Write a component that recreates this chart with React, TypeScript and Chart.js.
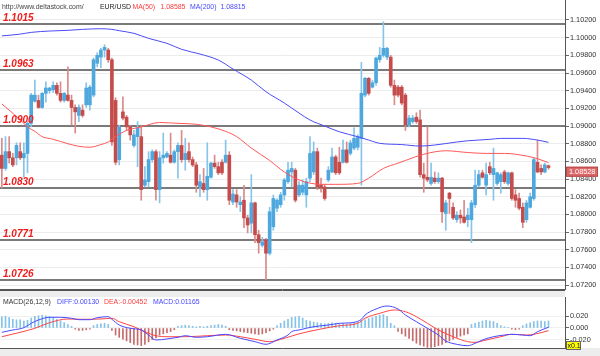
import React, { useEffect, useRef } from "react";
import { Chart, registerables } from "chart.js";

Chart.register(...registerables);

// ---------- candle data (EUR/USD) ----------
const OPEN = [
  1.0867, 1.0852, 1.0871, 1.0864, 1.0864, 1.0871, 1.0864, 1.0869, 1.0903, 1.0928,
  1.0929, 1.0921, 1.0937, 1.0940, 1.0941, 1.0946, 1.0937, 1.0929, 1.0935, 1.0929,
  1.0921, 1.0912, 1.0918, 1.0924, 1.0924, 1.0935, 1.0971, 1.0978, 1.0986, 1.0986,
  1.0975, 1.0929, 1.0862, 1.0916, 1.0910, 1.0899, 1.0878, 1.0888, 1.0888, 1.0833,
  1.0837, 1.0862, 1.0871, 1.0828, 1.0864, 1.0865, 1.0867, 1.0859, 1.0871, 1.0878,
  1.0862, 1.0871, 1.0862, 1.0856, 1.0831, 1.0835, 1.0828, 1.0842, 1.0858, 1.0854,
  1.0859, 1.0859, 1.0867, 1.0814, 1.0822, 1.0811, 1.0816, 1.0796, 1.0790, 1.0813,
  1.0777, 1.0765, 1.0771, 1.0756, 1.0786, 1.0807, 1.0811, 1.0822, 1.0837, 1.0848,
  1.0850, 1.0822, 1.0825, 1.0822, 1.0841, 1.0848, 1.0871, 1.0833, 1.0831, 1.0839,
  1.0848, 1.0865, 1.0859, 1.0859, 1.0873, 1.0869, 1.0875, 1.0876, 1.0886, 1.0935,
  1.0954, 1.0944, 1.0949, 1.0975, 1.0980, 1.0978, 1.0978, 1.0946, 1.0944, 1.0944,
  1.0935, 1.0901, 1.0905, 1.0910, 1.0907, 1.0845, 1.0842, 1.0835, 1.0841, 1.0837,
  1.0841, 1.0801, 1.0824, 1.0808, 1.0794, 1.0799, 1.0797, 1.0794, 1.0794, 1.0811,
  1.0833, 1.0847, 1.0833, 1.0854, 1.0845, 1.0835, 1.0837, 1.0848, 1.0835, 1.0847,
  1.0822, 1.0818, 1.0808, 1.0794, 1.0808, 1.0818, 1.0859, 1.0852, 1.0848, 1.0855,
];
const HIGH = [
  1.0886, 1.0888, 1.0888, 1.0869, 1.0881, 1.0881, 1.0881, 1.0905, 1.0937, 1.0952,
  1.0935, 1.0938, 1.0950, 1.0944, 1.0950, 1.0949, 1.0950, 1.0938, 1.0967, 1.0935,
  1.0924, 1.0924, 1.0924, 1.0949, 1.0946, 1.0977, 1.0983, 1.0988, 1.0992, 1.0988,
  1.0977, 1.0932, 1.0901, 1.0933, 1.0912, 1.0901, 1.0895, 1.0905, 1.0901, 1.0854,
  1.0871, 1.0873, 1.0873, 1.0871, 1.0892, 1.0871, 1.0892, 1.0873, 1.0881, 1.0895,
  1.0886, 1.0881, 1.0865, 1.0859, 1.0845, 1.0852, 1.0881, 1.0859, 1.0867, 1.0859,
  1.0862, 1.0884, 1.0871, 1.0828, 1.0828, 1.0820, 1.0833, 1.0799, 1.0845, 1.0814,
  1.0782, 1.0774, 1.0773, 1.0808, 1.0822, 1.0818, 1.0825, 1.0841, 1.0859, 1.0859,
  1.0852, 1.0837, 1.0839, 1.0841, 1.0888, 1.0882, 1.0875, 1.0841, 1.0833, 1.0854,
  1.0875, 1.0867, 1.0876, 1.0884, 1.0882, 1.0884, 1.0898, 1.0890, 1.0972, 1.0955,
  1.0955, 1.0952, 1.0978, 1.0989, 1.1018, 1.0989, 1.0980, 1.0952, 1.0946, 1.0946,
  1.0937, 1.0912, 1.0912, 1.0915, 1.0918, 1.0858, 1.0899, 1.0858, 1.0848, 1.0847,
  1.0842, 1.0816, 1.0825, 1.0813, 1.0803, 1.0805, 1.0816, 1.0807, 1.0816, 1.0850,
  1.0850, 1.0850, 1.0858, 1.0859, 1.0875, 1.0848, 1.0847, 1.0850, 1.0848, 1.0848,
  1.0828, 1.0824, 1.0813, 1.0816, 1.0824, 1.0864, 1.0884, 1.0856, 1.0858, 1.0856,
];
const LOW = [
  1.0830, 1.0850, 1.0858, 1.0854, 1.0856, 1.0862, 1.0842, 1.0847, 1.0899, 1.0927,
  1.0920, 1.0920, 1.0927, 1.0937, 1.0938, 1.0935, 1.0927, 1.0927, 1.0928, 1.0901,
  1.0892, 1.0905, 1.0910, 1.0921, 1.0918, 1.0933, 1.0967, 1.0966, 1.0978, 1.0972,
  1.0878, 1.0856, 1.0856, 1.0907, 1.0895, 1.0884, 1.0876, 1.0854, 1.0816, 1.0831,
  1.0831, 1.0859, 1.0816, 1.0813, 1.0858, 1.0864, 1.0858, 1.0858, 1.0841, 1.0859,
  1.0850, 1.0859, 1.0854, 1.0825, 1.0820, 1.0825, 1.0816, 1.0841, 1.0852, 1.0845,
  1.0845, 1.0858, 1.0811, 1.0811, 1.0808, 1.0803, 1.0785, 1.0779, 1.0779, 1.0768,
  1.0756, 1.0763, 1.0726, 1.0754, 1.0782, 1.0803, 1.0808, 1.0816, 1.0835, 1.0831,
  1.0814, 1.0820, 1.0822, 1.0808, 1.0837, 1.0845, 1.0828, 1.0825, 1.0816, 1.0837,
  1.0847, 1.0845, 1.0845, 1.0858, 1.0858, 1.0867, 1.0873, 1.0873, 1.0833, 1.0933,
  1.0935, 1.0943, 1.0946, 1.0972, 1.0978, 1.0975, 1.0944, 1.0924, 1.0933, 1.0924,
  1.0895, 1.0899, 1.0903, 1.0903, 1.0842, 1.0825, 1.0837, 1.0833, 1.0835, 1.0835,
  1.0791, 1.0782, 1.0801, 1.0794, 1.0791, 1.0790, 1.0790, 1.0786, 1.0768, 1.0808,
  1.0831, 1.0841, 1.0822, 1.0845, 1.0816, 1.0833, 1.0824, 1.0835, 1.0833, 1.0816,
  1.0808, 1.0805, 1.0785, 1.0791, 1.0807, 1.0816, 1.0847, 1.0845, 1.0847, 1.0851,
];
const CLOSE = [
  1.0852, 1.0871, 1.0864, 1.0856, 1.0878, 1.0864, 1.0869, 1.0903, 1.0935, 1.0935,
  1.0921, 1.0937, 1.0943, 1.0943, 1.0946, 1.0937, 1.0929, 1.0937, 1.0929, 1.0921,
  1.0916, 1.0921, 1.0912, 1.0943, 1.0944, 1.0975, 1.0980, 1.0986, 1.0989, 1.0975,
  1.0882, 1.0859, 1.0899, 1.0909, 1.0899, 1.0890, 1.0890, 1.0898, 1.0828, 1.0839,
  1.0862, 1.0871, 1.0828, 1.0864, 1.0867, 1.0869, 1.0859, 1.0871, 1.0878, 1.0862,
  1.0869, 1.0862, 1.0856, 1.0833, 1.0837, 1.0828, 1.0843, 1.0858, 1.0854, 1.0847,
  1.0847, 1.0867, 1.0816, 1.0823, 1.0814, 1.0814, 1.0796, 1.0788, 1.0813, 1.0777,
  1.0768, 1.0769, 1.0756, 1.0803, 1.0818, 1.0816, 1.0822, 1.0839, 1.0850, 1.0852,
  1.0816, 1.0833, 1.0833, 1.0837, 1.0869, 1.0871, 1.0831, 1.0830, 1.0818, 1.0850,
  1.0865, 1.0847, 1.0847, 1.0873, 1.0859, 1.0881, 1.0886, 1.0888, 1.0937, 1.0954,
  1.0937, 1.0949, 1.0977, 1.0980, 1.0988, 1.0988, 1.0946, 1.0935, 1.0935, 1.0926,
  1.0901, 1.0909, 1.0909, 1.0905, 1.0845, 1.0841, 1.0839, 1.0842, 1.0837, 1.0841,
  1.0803, 1.0813, 1.0818, 1.0796, 1.0799, 1.0796, 1.0791, 1.0799, 1.0813, 1.0833,
  1.0845, 1.0842, 1.0845, 1.0847, 1.0852, 1.0847, 1.0845, 1.0837, 1.0847, 1.0818,
  1.0816, 1.0807, 1.0791, 1.0813, 1.0820, 1.0862, 1.0848, 1.0848, 1.0856, 1.0853,
];

// ---------- moving averages (read at candle positions) ----------
const MA200_AT = [0, 5, 8, 13, 18, 22, 27, 30, 32, 36, 40, 45, 49, 54, 59, 63, 68, 72, 77, 81, 84, 88, 92, 97, 100, 103, 109, 114, 118, 124, 127, 133, 136, 142, 146, 149];
const MA200 = [1.1002, 1.1004, 1.1006, 1.10075, 1.10083, 1.10094, 1.10101, 1.10094, 1.10079, 1.10049, 1.09992, 1.09936, 1.09868, 1.09815, 1.09747, 1.09645, 1.0952, 1.09388, 1.0926, 1.09147, 1.09068, 1.09, 1.08935, 1.08879, 1.08841, 1.08804, 1.0879, 1.08773, 1.08785, 1.08819, 1.08833, 1.08849, 1.0886, 1.0886, 1.08841, 1.08815];
const MA50_AT = [0, 2, 5, 7, 9, 11, 14, 18, 21, 24, 27, 29, 31, 34, 38, 43, 48, 53, 57, 61, 64, 68, 73, 77, 81, 87, 91, 97, 100, 104, 108, 110, 115, 121, 127, 132, 137, 143, 146, 149];
const MA50 = [1.0925, 1.0918, 1.0907, 1.0899, 1.0894, 1.0888, 1.0885, 1.088, 1.0877, 1.0876, 1.0879, 1.0882, 1.0888, 1.0895, 1.0899, 1.0904, 1.0903, 1.0902, 1.0899, 1.0894, 1.0888, 1.0875, 1.0861, 1.0848, 1.0839, 1.0834, 1.0834, 1.0835, 1.0841, 1.0852, 1.0858, 1.0861, 1.0868, 1.0872, 1.087, 1.0869, 1.0869, 1.0866, 1.0863, 1.08585];

// ---------- MACD ----------
const DIFF_AT = [0, 3, 6, 8, 10, 13, 16, 19, 21, 24, 26, 29, 30, 32, 35, 38, 40, 42, 45, 48, 50, 53, 56, 61, 65, 69, 72, 75, 78, 79, 81, 85, 89, 92, 96, 98, 99, 102, 105, 108, 110, 113, 116, 119, 121, 124, 127, 129, 131, 134, 137, 139, 142, 144, 146, 149];
const DIFF = [-0.0074, -0.0034, 0.0005, 0.008, 0.0137, 0.0183, 0.0183, 0.0166, 0.0142, 0.0142, 0.0176, 0.0193, 0.0149, 0.0051, -0.0005, -0.0034, -0.012, -0.0205, -0.0188, -0.0159, -0.0132, -0.0159, -0.0149, -0.0108, -0.0176, -0.0234, -0.0279, -0.0205, -0.012, -0.0063, -0.0034, 0.0022, 0.0051, 0.008, 0.0097, 0.0149, 0.0222, 0.0325, 0.0376, 0.0325, 0.0222, 0.0108, -0.0005, -0.012, -0.0222, -0.0279, -0.0303, -0.0262, -0.0205, -0.0149, -0.012, -0.0108, -0.012, -0.0132, -0.0063, 0.0013];
const DEA_AT = [0, 5, 9, 13, 18, 22, 27, 30, 32, 36, 39, 42, 45, 50, 56, 61, 65, 69, 73, 77, 81, 87, 92, 97, 99, 103, 107, 110, 113, 116, 119, 123, 127, 129, 132, 136, 139, 143, 145, 149];
const DEA = [-0.0149, -0.0074, -0.0005, 0.0091, 0.0154, 0.0149, 0.0154, 0.0166, 0.0108, 0.0022, -0.0063, -0.0132, -0.0149, -0.0149, -0.0132, -0.012, -0.0149, -0.0193, -0.0234, -0.0176, -0.01, -0.0017, 0.0039, 0.008, 0.0166, 0.0251, 0.0308, 0.0279, 0.0193, 0.008, -0.0034, -0.0149, -0.0234, -0.0245, -0.0205, -0.0149, -0.0108, -0.012, -0.0108, -0.0045];
const HIST = [
  0.019, 0.02, 0.018, 0.015, 0.014, 0.014, 0.012, 0.013, 0.017, 0.02,
  0.021, 0.022, 0.021, 0.02, 0.018, 0.015, 0.012, 0.009, 0.006, 0.003,
  -0.002, -0.004, -0.004, -0.003, -0.002, 0.004, 0.006, 0.007, 0.008, 0.006,
  -0.004, -0.012, -0.016, -0.019, -0.022, -0.025, -0.028, -0.029, -0.03, -0.028,
  -0.024, -0.02, -0.017, -0.012, -0.01, -0.008, -0.006, -0.003, 0.003, 0.004,
  0.005, 0.004, 0.003, 0.002, 0.003, 0.002, 0.003, 0.004, 0.005, 0.006,
  0.005, 0.003, -0.003, -0.004, -0.005, -0.006, -0.007, -0.008, -0.009, -0.01,
  -0.011, -0.01, -0.008, -0.005, -0.002, 0.004, 0.008, 0.012, 0.015, 0.018,
  0.019, 0.02, 0.017, 0.013, 0.012, 0.01, 0.009, 0.008, 0.007, 0.008,
  0.009, 0.008, 0.007, 0.008, 0.007, 0.008, 0.009, 0.01, 0.013, 0.014,
  0.016, 0.018, 0.02, 0.022, 0.023, 0.02, 0.008, 0.004, -0.006, -0.01,
  -0.014, -0.018, -0.022, -0.026, -0.029, -0.031, -0.033, -0.033, -0.032, -0.03,
  -0.028, -0.025, -0.022, -0.019, -0.016, -0.014, -0.012, -0.01, 0.006, 0.008,
  0.01, 0.012, 0.013, 0.012, 0.011, 0.008, 0.004, 0.002, 0.001, -0.002,
  -0.003, -0.002, 0.004, 0.007, 0.009, 0.011, 0.012, 0.012, 0.011, 0.012,
];

// ---------- axis / annotation values ----------
const PRICE_TICKS = [1.072, 1.074, 1.076, 1.078, 1.08, 1.082, 1.084, 1.086, 1.088, 1.09, 1.092, 1.094, 1.096, 1.098, 1.1, 1.102];
const SUPPORT_LEVELS = [1.1015, 1.0963, 1.09, 1.083, 1.0771, 1.0726];
const MACD_TICKS = [0.02, 0, -0.02];
const LAST_PRICE = 1.08528;
const MA50_LAST = "1.08585";
const MA200_LAST = "1.08815";
const DIFF_LAST = "0.00130";
const DEA_LAST = "-0.00452";
const MACD_LAST = "0.01165";
const SYMBOL = "EUR/USD";
const SOURCE = "http://www.deltastock.com/";

const SLOTS = 154;
const PRICE_MAX = 1.1042637;
const PRICE_MIN = 1.0715529;
const MACD_MAX = 0.053;
const MACD_MIN = -0.0342;

const FONT = "'Liberation Sans', Arial, sans-serif";
const BLUE_BODY = "#4ea8de";
const RED_BODY = "#c64c4c";
const BLUE_WICK = "#86c4ea";
const RED_WICK = "#d98a8a";

const mainDecor = {
  id: "mainDecor",
  beforeDatasetsDraw(chart: any) {
    const { ctx, chartArea, scales } = chart;
    ctx.save();
    ctx.strokeStyle = "#7a7a7a";
    ctx.lineWidth = 2;
    SUPPORT_LEVELS.forEach((v) => {
      const py = Math.round(scales.y.getPixelForValue(v));
      ctx.beginPath();
      ctx.moveTo(chartArea.left, py);
      ctx.lineTo(chartArea.right, py);
      ctx.stroke();
    });
    ctx.restore();
  },
  afterDatasetsDraw(chart: any) {
    const { ctx, scales } = chart;
    ctx.save();
    ctx.font = `bold italic 10px ${FONT}`;
    ctx.fillStyle = "#ee1c1c";
    ctx.textBaseline = "alphabetic";
    SUPPORT_LEVELS.forEach((v) => {
      const py = Math.round(scales.y.getPixelForValue(v));
      ctx.fillText(v.toFixed(4), 3, py - 3);
    });
    ctx.restore();
  },
  afterDraw(chart: any) {
    const { ctx, chartArea, scales } = chart;
    ctx.save();
    // header
    ctx.font = `6.9px ${FONT}`;
    ctx.textBaseline = "alphabetic";
    ctx.fillStyle = "#444";
    ctx.fillText(SOURCE, 2, 8.5);
    ctx.fillStyle = "#222";
    ctx.fillText(SYMBOL, 100, 8.5);
    ctx.fillStyle = "#ff3b3b";
    ctx.fillText("MA(50)", 132.5, 8.5);
    ctx.fillText(MA50_LAST, 160.5, 8.5);
    ctx.fillStyle = "#4848ff";
    ctx.fillText("MA(200)", 190, 8.5);
    ctx.fillText(MA200_LAST, 220.5, 8.5);
    // bottom border
    ctx.strokeStyle = "#555";
    ctx.lineWidth = 1;
    ctx.beginPath();
    ctx.moveTo(0, chartArea.bottom + 0.5);
    ctx.lineTo(chartArea.right, chartArea.bottom + 0.5);
    ctx.stroke();
    // last price box
    const py = scales.y.getPixelForValue(LAST_PRICE);
    ctx.fillStyle = "#dc6767";
    ctx.fillRect(chartArea.right + 1, py - 1, 32, 10);
    ctx.strokeStyle = "#b44a4a";
    ctx.strokeRect(chartArea.right + 1.5, py - 0.5, 31, 9);
    ctx.fillStyle = "#ffffff";
    ctx.font = `7.3px ${FONT}`;
    ctx.fillText(LAST_PRICE.toFixed(5), chartArea.right + 4, py + 6.5);
    ctx.restore();
  },
};

const macdDecor = {
  id: "macdDecor",
  beforeDraw(chart: any) {
    const { ctx, chartArea, width, height } = chart;
    ctx.save();
    ctx.fillStyle = "#ffffff";
    ctx.fillRect(0, 0, width, height);
    ctx.fillStyle = "#ededed";
    ctx.fillRect(0, 0, chartArea.right, chartArea.top);
    ctx.fillRect(0, chartArea.bottom, width, height - chartArea.bottom);
    ctx.strokeStyle = "#555";
    ctx.lineWidth = 1;
    ctx.beginPath();
    ctx.moveTo(0, 0.5);
    ctx.lineTo(chartArea.right, 0.5);
    ctx.moveTo(0, chartArea.bottom + 0.5);
    ctx.lineTo(chartArea.right, chartArea.bottom + 0.5);
    ctx.stroke();
    ctx.restore();
  },
  afterDraw(chart: any) {
    const { ctx, chartArea } = chart;
    ctx.save();
    ctx.font = `6.9px ${FONT}`;
    ctx.textBaseline = "alphabetic";
    const by = chartArea.top + 6.5;
    ctx.fillStyle = "#333";
    ctx.fillText("MACD(26,12,9)", 3, by);
    ctx.fillStyle = "#4646ff";
    ctx.fillText("DIFF:" + DIFF_LAST, 57, by);
    ctx.fillStyle = "#ff3c3c";
    ctx.fillText("DEA:" + DEA_LAST, 104, by);
    ctx.fillStyle = "#4646ff";
    ctx.fillText("MACD:" + MACD_LAST, 153, by);
    // scale badge
    const bx = chartArea.right + 1;
    const byy = chartArea.bottom - 7;
    ctx.fillStyle = "#ffff00";
    ctx.fillRect(bx, byy, 15, 9);
    ctx.strokeStyle = "#666";
    ctx.strokeRect(bx + 0.5, byy + 0.5, 14, 8);
    ctx.fillStyle = "#111";
    ctx.font = `7px ${FONT}`;
    ctx.fillText("x0.1", bx + 1.5, byy + 7);
    ctx.restore();
  },
};

export default function App() {
  const mainRef = useRef<HTMLCanvasElement>(null);
  const macdRef = useRef<HTMLCanvasElement>(null);

  useEffect(() => {
    const idx = OPEN.map((_, i) => i);
    const up = (i: number) => CLOSE[i] >= OPEN[i];

    const main = new Chart(mainRef.current!, {
      type: "bar",
      data: {
        datasets: [
          {
            type: "line",
            data: MA200_AT.map((x, k) => ({ x, y: MA200[k] })),
            borderColor: "#4b4bf5",
            borderWidth: 1,
            pointRadius: 0,
            cubicInterpolationMode: "monotone",
            order: 0,
          } as any,
          {
            type: "line",
            data: MA50_AT.map((x, k) => ({ x, y: MA50[k] })),
            borderColor: "#ff5757",
            borderWidth: 1,
            pointRadius: 0,
            cubicInterpolationMode: "monotone",
            order: 0,
          } as any,
          {
            type: "bar",
            data: idx.map((i) => ({ x: i, y: [OPEN[i], CLOSE[i]] })),
            backgroundColor: idx.map((i) => (up(i) ? BLUE_BODY : RED_BODY)),
            borderWidth: 0,
            barThickness: 3,
            grouped: false,
            order: 1,
          } as any,
          {
            type: "bar",
            data: idx.map((i) => ({ x: i, y: [LOW[i], HIGH[i]] })),
            backgroundColor: idx.map((i) => (up(i) ? BLUE_WICK : RED_WICK)),
            borderWidth: 0,
            barThickness: 1,
            grouped: false,
            order: 2,
          } as any,
        ],
      },
      options: {
        responsive: false,
        animation: false,
        layout: { padding: { left: 0, right: 0, top: 0, bottom: 1 } },
        plugins: { legend: { display: false }, tooltip: { enabled: false } },
        scales: {
          x: { type: "linear", min: -0.5, max: SLOTS - 0.5, offset: false, display: false },
          y: {
            position: "right",
            min: PRICE_MIN,
            max: PRICE_MAX,
            afterBuildTicks: (s: any) => {
              s.ticks = PRICE_TICKS.map((v) => ({ value: v }));
            },
            afterFit: (s: any) => {
              s.width = 35;
              s.paddingTop = 0;
              s.paddingBottom = 0;
            },
            ticks: {
              font: { family: FONT, size: 7.3 },
              color: "#333",
              padding: 1,
              callback: (v: any) => Number(v).toFixed(5),
            },
            grid: { color: "#ececec", tickColor: "#666", tickLength: 4 },
            border: { color: "#555", width: 1 },
          },
        },
      } as any,
      plugins: [mainDecor],
    });

    const macd = new Chart(macdRef.current!, {
      type: "bar",
      data: {
        datasets: [
          {
            type: "line",
            data: DIFF_AT.map((x, k) => ({ x, y: DIFF[k] })),
            borderColor: "#4a4aff",
            borderWidth: 1,
            pointRadius: 0,
            cubicInterpolationMode: "monotone",
            order: 0,
          } as any,
          {
            type: "line",
            data: DEA_AT.map((x, k) => ({ x, y: DEA[k] })),
            borderColor: "#ff4545",
            borderWidth: 1,
            pointRadius: 0,
            cubicInterpolationMode: "monotone",
            order: 1,
          } as any,
          {
            type: "bar",
            data: idx.map((i) => ({ x: i, y: HIST[i] })),
            backgroundColor: idx.map((i) => (HIST[i] >= 0 ? "#84c2e8" : "#c46a6a")),
            borderWidth: 0,
            barThickness: 1,
            grouped: false,
            order: 2,
          } as any,
        ],
      },
      options: {
        responsive: false,
        animation: false,
        layout: { padding: { left: 0, right: 0, top: 7, bottom: 8 } },
        plugins: { legend: { display: false }, tooltip: { enabled: false } },
        scales: {
          x: { type: "linear", min: -0.5, max: SLOTS - 0.5, offset: false, display: false },
          y: {
            position: "right",
            min: MACD_MIN,
            max: MACD_MAX,
            afterBuildTicks: (s: any) => {
              s.ticks = MACD_TICKS.map((v) => ({ value: v }));
            },
            afterFit: (s: any) => {
              s.width = 35;
              s.paddingTop = 0;
              s.paddingBottom = 0;
            },
            ticks: {
              font: { family: FONT, size: 7.3 },
              color: "#333",
              padding: 1,
              callback: (v: any) => Number(v).toFixed(3),
            },
            grid: { color: "#f0f0f0", tickColor: "#666", tickLength: 4 },
            border: { color: "#555", width: 1 },
          },
        },
      } as any,
      plugins: [macdDecor],
    });

    return () => {
      main.destroy();
      macd.destroy();
    };
  }, []);

  return (
    <div style={{ position: "fixed", left: 0, top: 0, width: 600, height: 356, background: "#fff" }}>
      <canvas ref={mainRef} width={600} height={290} style={{ position: "absolute", left: 0, top: 0 }} />
      <canvas ref={macdRef} width={600} height={66} style={{ position: "absolute", left: 0, top: 290 }} />
    </div>
  );
}
